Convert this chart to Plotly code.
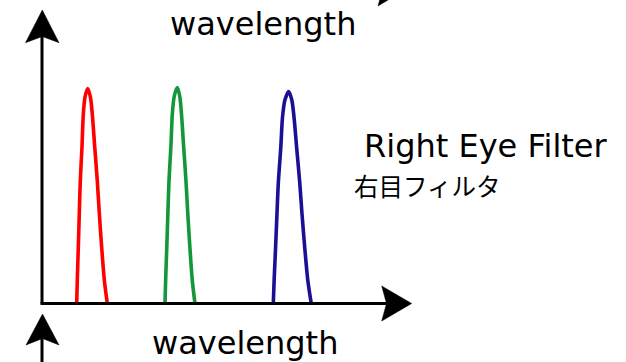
import plotly.graph_objects as go

# filter peaks (x = wavelength offset from the axis origin, y = transmission)
PEAK_NAMES = ["red", "green", "blue"]
PEAK_CENTER = [45.7, 135.3, 246.7]
PEAK_HEIGHT = [215, 216, 212]
PEAK_LEFT_SCALE = [1.0, 1.12, 1.4]
PEAK_RIGHT_SCALE = [1.0, 0.9, 1.15]

# one peak's outline: offsets and relative heights
PROFILE_DX = [-11, -10.4, -9.4, -8.4, -7.4, -5.7, -4.4, -2.7, 0,
              2.7, 4.6, 7, 9.6, 11.6, 14, 16.6, 19.6]
PROFILE_H = [0, 0.11, 0.26, 0.42, 0.57, 0.73, 0.88, 0.96, 1,
             0.96, 0.88, 0.73, 0.57, 0.42, 0.26, 0.11, 0]

COLORS = ["#ff0000", "#14963a", "#1b0f96"]

LABEL_TOP = "wavelength"
LABEL_BOTTOM = "wavelength"
TITLE_EN = "Right Eye Filter"
TITLE_JA = "右目フィルタ"

fig = go.Figure()

for name, c, h, ls, rs, col in zip(PEAK_NAMES, PEAK_CENTER, PEAK_HEIGHT,
                                  PEAK_LEFT_SCALE, PEAK_RIGHT_SCALE, COLORS):
    xs = [c + d * (ls if d < 0 else rs) for d in PROFILE_DX]
    ys = [p * h for p in PROFILE_H]
    fig.add_trace(go.Scatter(
        x=xs, y=ys, mode="lines", name=name,
        line=dict(color=col, width=3.6, shape="spline", smoothing=0.8),
        hoverinfo="skip",
    ))


def arrow(tip, c1, notch, c2):
    pts = [tip, c1, notch, c2]
    return "M " + " L ".join(f"{x},{y}" for x, y in pts) + " Z"


line = dict(color="black", width=3)
shapes = [
    # axes
    dict(type="line", x0=0, y0=0, x1=0, y1=268, line=line),
    dict(type="line", x0=-1.5, y0=0, x1=346, y1=0, line=line),
    # lower diagram's y axis (cropped)
    dict(type="line", x0=0, y0=-34, x1=0, y1=-70, line=line),
]
heads = [
    arrow((0.3, 293.5), (-16.5, 260.8), (0.3, 267), (17, 260.8)),
    arrow((369.7, 0), (339.7, 17.5), (344.5, 0), (339.7, -17.5)),
    arrow((0.5, -10.5), (-16, -41.5), (0.5, -35), (17, -41.5)),
    arrow((366, 315.5), (336, 297.5), (341, 315.5), (336, 333.5)),
]
for p in heads:
    shapes.append(dict(type="path", path=p, fillcolor="black",
                       line=dict(color="black", width=0.5)))

txt = dict(family="DejaVu Sans, Arial, sans-serif", size=32, color="black")
annotations = [
    dict(x=220.5, y=279.5, text=LABEL_TOP, font=txt),
    dict(x=203, y=-39.5, text=LABEL_BOTTOM, font=txt),
    dict(x=444, y=157.5, text=TITLE_EN, font=txt),
    dict(x=385, y=118.5, text=TITLE_JA,
         font=dict(family="Noto Sans CJK JP, sans-serif", size=24.5, color="black")),
]
for a in annotations:
    a.update(xref="x", yref="y", showarrow=False, xanchor="center", yanchor="middle")

fig.update_layout(
    width=626, height=362,
    margin=dict(l=0, r=0, t=0, b=0),
    paper_bgcolor="white", plot_bgcolor="white",
    showlegend=False,
    xaxis=dict(range=[-42, 584], visible=False, fixedrange=True),
    yaxis=dict(range=[-58.5, 303.5], visible=False, fixedrange=True),
    shapes=shapes,
    annotations=annotations,
)

# page body has a default 8px margin; drop it so the figure fills the window
fig.write_html(
    "out.html",
    config=dict(displayModeBar=False),
    post_script="document.body.style.margin='0';document.body.style.overflow='hidden';",
)
